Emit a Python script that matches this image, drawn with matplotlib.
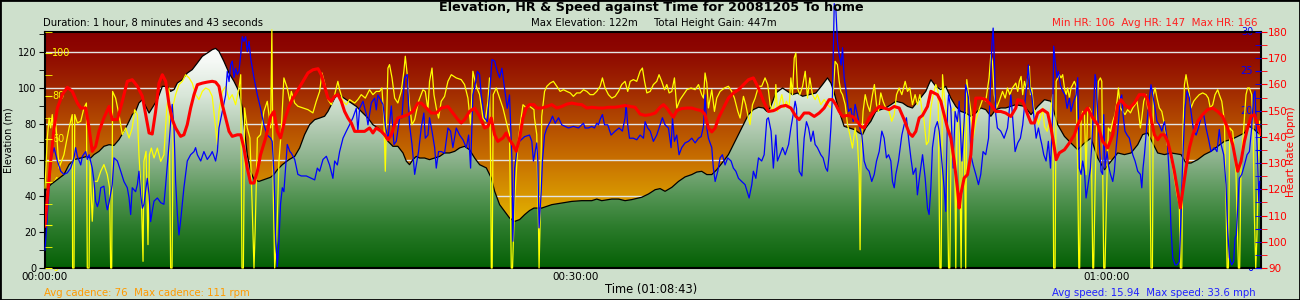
import numpy as np
import matplotlib
matplotlib.use('Agg')  # no display in the sandbox
import matplotlib.pyplot as plt
import matplotlib.transforms as mtransforms
from matplotlib.colors import LinearSegmentedColormap
from matplotlib.patches import Rectangle
from matplotlib.ticker import MultipleLocator, FixedLocator

# ride summary texts
title = 'Elevation, HR & Speed against Time for 20081205 To home'
duration_text = 'Duration: 1 hour, 8 minutes and 43 seconds'
elev_text = 'Max Elevation: 122m     Total Height Gain: 447m'
hr_text = 'Min HR: 106  Avg HR: 147  Max HR: 166'
cad_text = 'Avg cadence: 76  Max cadence: 111 rpm'
spd_text = 'Avg speed: 15.94  Max speed: 33.6 mph'
time_title = 'Time (01:08:43)'
duration_min = 68 + 43 / 60.0

time_ticks = [0, 30, 60]
time_labels = ['00:00:00', '00:30:00', '01:00:00']
cad_ticks = [0, 20, 40, 60, 80, 100]
spd_ticks = [0, 5, 10, 15, 20, 25, 30]

# elevation (m) against minutes
elev_min = [0.00, 0.32, 0.70, 1.07, 1.36, 1.64, 2.02, 2.39, 2.58, 2.77, 3.05, 3.33, 3.62, 3.90, 4.18, 4.46, 4.75, 4.93, 5.12, 5.31,
            5.50, 5.69, 5.88, 6.06, 6.35, 6.63, 6.91, 7.10, 7.29, 7.48, 7.76, 8.04, 8.32, 8.61, 8.89, 9.17, 9.45, 9.64, 9.83, 10.11,
            10.40, 10.68, 10.96, 11.15, 11.24, 11.43, 11.62, 11.81, 12.09, 12.37, 12.75, 12.93, 13.13, 13.41, 13.79,
            14.11, 14.39, 14.67, 14.95, 15.24, 15.52, 15.80, 15.99, 16.18, 16.37, 16.55, 16.74, 17.03, 17.31, 17.59, 17.87, 18.25,
            18.53, 18.81, 19.10, 19.38, 19.66, 19.94, 20.23, 20.42, 20.60, 20.79, 20.98, 21.17, 21.45, 21.73, 22.02, 22.30, 22.58,
            22.86, 23.15, 23.43, 23.71, 23.99, 24.28, 24.56, 24.94, 25.22, 25.41, 25.69, 25.97, 26.25, 26.54, 26.82, 27.10, 27.38, 27.63,
            28.07, 28.64, 29.20, 29.77, 30.33, 30.90, 31.18, 31.46, 32.03, 32.41, 32.78, 33.16, 33.72, 34.10, 34.48, 34.76, 35.04,
            35.42, 35.80, 36.17, 36.55, 36.83, 37.11, 37.40, 37.68, 37.96, 38.34, 38.62, 38.90, 39.19, 39.47, 39.75, 40.03, 40.32,
            40.60, 40.79, 40.98, 41.16,
            41.30, 41.68, 41.96, 42.24, 42.52, 42.81, 43.18, 43.56, 43.94, 44.22, 44.41, 44.60, 44.88, 45.16, 45.44, 45.73, 46.01,
            46.20, 46.38, 46.67, 46.95, 47.23, 47.51, 47.80, 48.08, 48.46, 48.74, 49.02, 49.40, 49.77, 50.06, 50.34, 50.62, 50.90,
            51.19, 51.47, 51.75, 52.03, 52.32, 52.60, 52.88, 53.16, 53.45, 53.73, 54.01, 54.29, 54.58, 54.86,
            55.35, 55.72, 56.10, 56.48, 56.85, 57.23, 57.61, 57.98, 58.36, 58.74, 59.11, 59.49, 59.87, 60.24, 60.62, 61.00, 61.37,
            61.75, 62.03, 62.31, 62.60, 62.88, 63.26, 63.63, 64.20, 64.48, 64.76, 65.14, 65.52, 65.89, 66.27, 66.65, 67.02, 67.40,
            67.78, 68.06, 68.34, 68.72]
elev_m = [42.6, 46.3, 49.1, 51.9, 57.4, 60.2, 61.1, 62.0, 61.1, 63.0, 64.8, 67.6, 68.5, 68.1, 71.3, 75.9, 81.5, 85.2, 87.0, 91.7,
          93.5, 89.8, 86.1, 88.9, 93.5, 100.9, 100.9, 98.1, 99.1, 102.8, 104.6, 108.3, 110.2, 113.9, 117.6, 119.4, 121.3, 122.0, 120.4, 114.8,
          108.3, 103.7, 98.1, 88.9, 79.6, 63.0, 53.7, 49.1, 48.1, 49.1, 50.4, 51.9, 54.6, 57.4, 60.2,
          62.0, 66.7, 74.1, 79.6, 82.4, 83.3, 84.3, 87.0, 90.7, 94.4, 96.3, 95.4, 93.5, 91.7, 89.8, 87.0, 83.3,
          79.6, 77.8, 75.0, 70.4, 67.6, 67.6, 63.9, 59.3, 57.4, 60.2, 62.0, 61.1, 61.1, 60.2, 61.1, 62.0, 63.9,
          63.9, 64.8, 66.7, 67.6, 65.7, 61.1, 57.4, 55.6, 50.0, 42.6, 35.2, 31.5, 27.8, 25.9, 26.9, 29.6, 31.9, 33.3,
          33.3, 35.2, 36.1, 37.0, 37.4, 37.4, 38.3, 37.4, 38.3, 38.3, 37.4, 38.0, 39.3, 41.1, 43.5, 44.1, 42.6,
          44.8, 48.1, 50.6, 51.9, 53.3, 53.7, 51.9, 51.9, 54.6, 59.3, 63.0, 68.5, 74.1, 79.6, 85.2, 88.0, 89.3,
          88.9, 87.0, 88.9, 93.5,
          97.2, 100.0, 98.1, 96.3, 97.2, 95.4, 96.3, 97.2, 101.9, 105.6, 102.8, 97.2, 87.0, 78.7, 77.8, 76.9, 75.0,
          74.1, 77.8, 81.5, 87.0, 88.0, 88.9, 90.7, 92.6, 91.7, 89.8, 88.9, 93.5, 98.1, 104.6, 100.9, 99.1, 100.9,
          94.4, 89.8, 87.0, 86.1, 84.3, 86.1, 88.9, 88.0, 84.3, 88.0, 88.9, 88.9, 89.8, 90.7,
          89.8, 85.2, 89.8, 93.5, 92.6, 79.6, 73.1, 69.4, 65.7, 69.4, 72.2, 61.1, 54.6, 59.3, 63.9, 63.0, 63.9,
          68.5, 74.1, 75.0, 69.4, 63.9, 63.0, 63.9, 63.0, 58.3, 58.3, 60.2, 63.0, 64.8, 67.6, 70.4, 71.3, 73.1,
          75.0, 78.7, 76.9, 73.5]

# heart rate (bpm)
hr_min = [0.00, 0.13, 0.32, 0.51, 0.70, 0.98, 1.26, 1.54, 1.83, 2.02, 2.30, 2.49, 2.67, 2.86, 3.05, 3.33, 3.62, 3.80, 4.09, 4.37,
          4.65, 4.93, 5.22, 5.50, 5.69, 5.88, 6.06, 6.25, 6.44, 6.63, 6.82, 7.01, 7.19, 7.38, 7.66, 7.85, 8.04, 8.23, 8.42, 8.61,
          8.89, 9.17, 9.45, 9.64, 9.83, 10.02, 10.21, 10.40, 10.58, 10.87, 11.06, 11.24, 11.43, 11.62, 11.81, 12.00, 12.18, 12.47,
          12.75, 12.94, 13.13, 13.31, 13.60, 13.79,
          14.01, 14.30, 14.58, 14.86, 15.14, 15.43, 15.61, 15.80, 15.99, 16.18, 16.37, 16.55, 16.74, 16.93, 17.12, 17.31, 17.50,
          17.78, 18.06, 18.34, 18.53, 18.72, 19.00, 19.19, 19.38, 19.57, 19.76, 19.94, 20.23, 20.51, 20.79, 21.07, 21.26, 21.55,
          21.83, 22.11, 22.39, 22.77, 23.05, 23.33, 23.52, 23.71, 23.99, 24.28, 24.56, 24.84, 25.03, 25.22, 25.41, 25.59, 25.88,
          26.06, 26.25, 26.44, 26.63, 26.82, 27.01, 27.20, 27.38, 27.63,
          27.79, 28.07, 28.36, 28.64, 28.92, 29.20, 29.49, 29.77, 30.05, 30.33, 30.62, 30.90, 31.28, 31.56, 31.84, 32.22, 32.50,
          32.78, 33.07, 33.35, 33.63, 33.91, 34.20, 34.48, 34.76, 34.95, 35.14, 35.33, 35.51, 35.70, 35.98, 36.27, 36.55, 36.83,
          37.11, 37.30, 37.49, 37.68, 37.87, 38.06, 38.34, 38.62, 38.90, 39.19, 39.47, 39.75, 40.03, 40.32, 40.60, 40.88, 41.16,
          41.30, 41.58, 41.86, 42.15, 42.43, 42.62, 42.90, 43.18, 43.47, 43.75, 44.03, 44.31, 44.50, 44.69, 44.88, 45.07, 45.35,
          45.63, 45.91, 46.10, 46.29, 46.57, 46.86, 47.14, 47.42, 47.70, 47.99, 48.27, 48.55, 48.83, 49.02, 49.21, 49.40, 49.59,
          49.87, 50.06, 50.25, 50.43, 50.62, 50.81, 51.00, 51.19, 51.38, 51.56, 51.66, 51.75, 51.94, 52.13, 52.32, 52.41, 52.60,
          52.88, 53.16, 53.45, 53.73, 54.01, 54.29, 54.58, 54.86,
          54.97, 55.25, 55.53, 55.72, 55.91, 56.10, 56.38, 56.66, 56.85, 57.04, 57.14, 57.32, 57.61, 57.89, 58.17, 58.36, 58.64,
          58.92, 59.21, 59.49, 59.77, 60.05, 60.34, 60.62, 60.81, 61.00, 61.28, 61.56, 61.84, 62.13, 62.31, 62.50, 62.69, 62.88,
          63.07, 63.26, 63.44, 63.63, 63.82, 64.01, 64.16, 64.29, 64.48, 64.67, 64.86, 65.14, 65.42, 65.70, 65.99, 66.27, 66.55,
          66.83, 67.12, 67.40, 67.59, 67.78, 67.96, 68.15, 68.34, 68.53, 68.72]
hr_bpm = [106.0, 116.7, 130.7, 143.4, 151.0, 156.1, 158.9, 157.4, 152.9, 151.0, 151.0, 143.4, 134.5, 136.4, 142.1, 147.2, 151.6, 146.6, 146.6, 153.6,
          161.2, 161.8, 159.3, 155.5, 148.5, 141.5, 141.1, 149.7, 160.5, 163.7, 161.2, 152.3, 146.6, 143.4, 140.2, 140.8, 144.7, 151.0, 156.1, 159.9,
          160.5, 160.9, 161.2, 160.9, 159.3, 152.3, 147.2, 142.1, 140.2, 140.8, 140.8, 135.8, 128.1, 122.4, 122.4, 126.9, 133.2, 139.6,
          147.8, 149.7, 142.1, 139.6, 147.8, 151.6,
          154.8, 158.0, 161.2, 164.4, 165.6, 166.0, 163.7, 159.3, 154.8, 153.6, 155.5, 156.1, 153.6, 149.7, 147.2, 145.3, 142.1,
          142.1, 142.1, 143.4, 141.5, 143.4, 142.1, 140.8, 138.9, 140.8, 144.7, 147.2, 147.8, 148.5, 149.7, 152.9, 152.9, 151.0,
          149.1, 149.1, 151.0, 151.6, 149.1, 146.6, 145.3, 146.6, 149.7, 151.0, 147.8, 143.4, 144.0, 147.2, 140.8, 138.3, 139.6,
          141.5, 138.9, 137.0, 134.5, 139.6, 147.2, 151.0, 152.3, 152.3,
          151.0, 151.0, 151.6, 152.3, 151.0, 151.6, 152.5, 152.9, 152.5, 152.3, 151.0, 151.3, 151.0, 151.0, 151.3, 151.3, 151.6,
          152.0, 151.6, 151.3, 148.7, 148.2, 148.5, 149.1, 151.3, 152.3, 151.0, 149.1, 147.5, 150.0, 150.8, 151.0, 151.0, 150.4,
          150.0, 148.5, 143.4, 141.9, 143.4, 147.2, 151.0, 154.8, 156.7, 158.0, 159.9, 161.8, 162.5, 158.6, 153.6, 149.7, 150.0,
          150.4, 151.6, 152.0, 151.0, 147.8, 146.6, 149.1, 149.1, 147.8, 149.1, 151.0, 154.2, 154.2, 152.3, 149.7, 147.8, 148.2,
          147.8, 145.9, 144.0, 143.4, 147.2, 149.7, 151.6, 151.0, 150.4, 151.6, 151.0, 146.6, 141.5, 140.2, 142.1, 147.2, 148.2,
          151.6, 157.4, 156.7, 156.1, 153.6, 148.5, 143.4, 139.6, 130.7, 120.5, 112.9, 118.0, 124.3, 125.6, 133.2, 142.1, 154.8,
          154.8, 154.2, 152.3, 149.7, 149.7, 149.1, 147.8, 151.0,
          154.2, 153.6, 148.5, 145.3, 145.3, 149.1, 150.4, 149.1, 143.4, 135.8, 131.3, 133.9, 135.1, 137.7, 140.8, 144.7, 148.5,
          151.0, 147.2, 144.7, 138.3, 135.8, 140.8, 152.3, 154.2, 152.3, 151.0, 152.9, 156.1, 156.1, 154.2, 147.2, 140.8, 138.9,
          140.8, 140.8, 138.3, 133.2, 126.9, 119.2, 112.9, 119.2, 128.1, 135.8, 140.8, 145.9, 148.5, 150.4, 151.0, 149.7, 147.8,
          143.4, 137.0, 126.9, 130.7, 138.3, 143.4, 147.8, 148.5, 144.7, 141.0]

# speed (mph)
spd_min = [0.00, 0.09, 0.23, 0.36, 0.51, 0.70, 0.89, 1.07, 1.26, 1.45, 1.64, 1.73, 1.83, 2.02, 2.11, 2.30, 2.39, 2.49, 2.67, 2.77,
           2.86, 2.96, 3.05, 3.15, 3.33, 3.43, 3.52, 3.62, 3.80, 3.90, 4.09, 4.28, 4.46, 4.65, 4.75, 4.84, 4.93, 5.12, 5.22, 5.31,
           5.41, 5.50, 5.59, 5.78, 5.88, 5.97, 6.06, 6.16, 6.35, 6.54, 6.72, 6.82, 7.01, 7.10, 7.19, 7.29, 7.38, 7.48, 7.57, 7.66,
           7.85, 8.04, 8.23, 8.42, 8.51, 8.61, 8.80, 8.98, 9.17, 9.36, 9.45, 9.55, 9.64, 9.74, 9.83, 10.02, 10.21, 10.30, 10.40, 10.49,
           10.58, 10.68, 10.77, 10.87, 10.96, 11.06, 11.15, 11.24, 11.34, 11.43, 11.53, 11.62, 11.81, 12.00, 12.18, 12.37, 12.56, 12.75,
           12.84, 12.94, 13.03, 13.13, 13.22, 13.31, 13.41, 13.50, 13.69, 13.84,
           13.92, 14.11, 14.29, 14.48, 14.77, 15.05, 15.24, 15.39, 15.52, 15.71, 15.90, 16.08, 16.27, 16.37, 16.52, 16.65, 16.84,
           17.03, 17.21, 17.40, 17.59, 17.68, 17.78, 17.97, 18.16, 18.25, 18.44, 18.63, 18.72, 18.81, 19.00, 19.10, 19.23, 19.38,
           19.57, 19.72, 19.85, 20.04, 20.17, 20.32, 20.47, 20.60, 20.74, 20.89, 20.98, 21.11, 21.26, 21.41, 21.49, 21.64, 21.73,
           21.87, 22.02, 22.11, 22.24, 22.39, 22.58, 22.77, 22.92, 23.05, 23.24, 23.43, 23.62, 23.81, 23.94, 24.05, 24.18, 24.28,
           24.43, 24.56, 24.65, 24.84, 24.99, 25.12, 25.26, 25.41, 25.56, 25.69, 25.82, 25.97, 26.12, 26.25, 26.39, 26.44, 26.54,
           26.69, 26.82, 27.10, 27.38,
           27.51, 27.60, 27.70, 27.79, 27.85, 27.92, 28.04, 28.11, 28.23, 28.36, 28.55, 28.68, 28.83, 29.02, 29.20, 29.39, 29.58,
           29.86, 30.15, 30.33, 30.43, 30.52, 30.71, 30.90, 31.05, 31.18, 31.28, 31.37, 31.50, 31.62, 31.80, 31.99, 32.22, 32.44,
           32.63, 32.78, 32.84, 32.93, 33.03, 33.25, 33.44, 33.63, 33.82, 33.91, 34.06, 34.20, 34.38, 34.57, 34.76, 34.89, 35.04,
           35.23, 35.38, 35.46, 35.57, 35.70, 35.83, 35.98, 36.17, 36.36, 36.55, 36.74, 36.93, 37.08, 37.21, 37.30, 37.40, 37.49,
           37.68, 37.77, 37.87, 38.02, 38.15, 38.28, 38.43, 38.58, 38.77, 38.90, 39.04, 39.19, 39.37, 39.56, 39.79, 39.94, 40.03,
           40.17, 40.32, 40.50, 40.64, 40.79, 40.88, 41.03, 41.16,
           41.30, 41.39, 41.53, 41.68, 41.83, 42.02, 42.15, 42.28, 42.39, 42.47, 42.52, 42.62, 42.77, 42.90, 43.03, 43.15, 43.28,
           43.41, 43.52, 43.65, 43.84, 43.97, 44.12, 44.22, 44.31, 44.41, 44.50, 44.60, 44.69, 44.78, 44.88, 44.99, 45.07, 45.16,
           45.25, 45.41, 45.54, 45.67, 45.78, 45.91, 46.05, 46.16, 46.29, 46.42, 46.57, 46.72, 46.86, 46.99, 47.14, 47.29, 47.42,
           47.55, 47.67, 47.80, 47.89, 47.99, 48.08, 48.23, 48.42, 48.55, 48.68, 48.80, 48.93, 49.06, 49.21, 49.30, 49.44, 49.59,
           49.74, 49.87, 49.96, 50.06, 50.15, 50.30, 50.43, 50.53, 50.68, 50.81, 50.90, 51.00, 51.06, 51.19, 51.32, 51.43, 51.56,
           51.66, 51.81, 51.94, 52.03, 52.19, 52.32, 52.45, 52.60, 52.75, 52.88, 53.01, 53.16, 53.32, 53.43, 53.50, 53.58, 53.65,
           53.73, 53.82, 54.01, 54.20, 54.39, 54.58, 54.67, 54.82,
           54.97, 55.12, 55.25, 55.38, 55.50, 55.57, 55.65, 55.76, 55.87, 56.01, 56.14, 56.25, 56.33, 56.44, 56.57, 56.70, 56.82,
           56.95, 57.00, 57.08, 57.19, 57.27, 57.38, 57.51, 57.64, 57.76, 57.89, 57.98, 58.13, 58.27, 58.36, 58.45, 58.55, 58.64,
           58.74, 58.83, 58.92, 59.08, 59.21, 59.34, 59.41, 59.49, 59.58, 59.68, 59.77, 59.83, 59.90, 60.02, 60.09, 60.21, 60.34,
           60.43, 60.53, 60.62, 60.77, 60.85, 60.92, 61.03, 61.15, 61.28, 61.47, 61.60, 61.75, 61.90, 61.98, 62.05, 62.13, 62.28,
           62.41, 62.50, 62.60, 62.73, 62.84, 62.97, 63.11, 63.26, 63.41, 63.54, 63.63, 63.73, 63.86, 63.97, 64.10, 64.20, 64.29,
           64.42, 64.54, 64.67, 64.76, 64.91, 65.05, 65.18, 65.33, 65.48, 65.61, 65.74, 65.89, 66.08, 66.23, 66.36, 66.46, 66.61,
           66.74, 66.83, 66.93, 67.06, 67.17, 67.25, 67.32, 67.40, 67.49, 67.63, 67.78, 67.93, 68.06, 68.19, 68.30, 68.38, 68.44,
           68.53, 68.59, 68.64]
spd_mph = [2.3, 5.1, 10.2, 14.0, 15.3, 13.6, 12.3, 11.9, 12.1, 12.7, 14.0, 15.3, 14.2, 13.1, 14.2, 14.8, 13.8, 14.4, 12.7, 11.0,
           8.5, 7.8, 8.5, 10.2, 10.4, 8.5, 7.4, 8.3, 10.6, 14.0, 13.6, 12.3, 11.0, 10.2, 8.9, 6.8, 10.2, 9.7, 10.6, 12.3,
           9.3, 7.6, 8.1, 11.4, 9.3, 5.9, 7.2, 8.5, 8.9, 8.3, 8.1, 10.6, 15.7, 18.6, 20.8, 17.8, 11.0, 6.8, 4.2, 5.9,
           10.2, 13.6, 14.4, 14.8, 15.3, 14.4, 13.6, 14.8, 13.8, 14.4, 14.8, 14.2, 13.6, 14.8, 17.8, 19.9, 22.0, 25.0, 23.7, 25.8,
           26.3, 24.2, 25.4, 24.6, 25.0, 27.1, 29.4, 28.8, 29.4, 27.5, 28.8, 26.7, 24.2, 22.0, 20.3, 18.2, 16.9, 16.5,
           16.1, 11.9, 4.2, 0.2, 3.4, 8.1, 10.2, 9.7, 15.7, 14.8,
           14.6, 13.8, 11.9, 11.7, 11.7, 11.4, 11.2, 12.7, 12.3, 13.8, 14.2, 13.1, 11.4, 13.6, 13.1, 14.8, 16.5,
           17.4, 18.2, 19.1, 20.3, 17.4, 20.3, 21.2, 19.5, 18.2, 21.0, 21.6, 20.1, 22.0, 21.2, 20.8, 18.2, 16.3,
           20.6, 15.7, 16.1, 19.1, 19.1, 24.2, 24.6, 18.2, 15.7, 11.9, 13.1, 14.8, 17.8, 19.7, 16.5, 16.9, 19.1,
           17.4, 15.3, 12.7, 14.8, 14.8, 14.6, 17.8, 17.4, 15.3, 17.8, 16.9, 16.3, 15.3, 16.9, 12.7, 22.0, 22.9,
           25.0, 24.6, 22.0, 19.1, 18.6, 22.0, 26.5, 26.3, 25.0, 24.2, 25.4, 22.9, 20.3, 22.0, 13.6, 3.4, 12.7,
           15.3, 16.1, 16.7, 16.9,
           16.1, 13.6, 14.8, 15.9, 13.6, 5.1, 9.7, 13.6, 16.9, 17.8, 18.6, 19.3, 18.4, 19.1, 18.2, 18.0, 17.8,
           18.0, 17.8, 18.2, 18.4, 17.8, 17.8, 18.0, 17.8, 18.4, 18.2, 18.9, 19.5, 18.2, 18.2, 16.9, 17.4, 17.8,
           17.4, 19.1, 20.8, 18.2, 16.5, 16.5, 16.3, 16.9, 16.5, 18.6, 17.8, 17.4, 16.1, 16.9, 18.2, 19.1, 18.2,
           17.8, 15.3, 19.1, 16.1, 16.9, 14.4, 15.3, 15.9, 16.1, 16.5, 15.9, 16.5, 16.7, 18.0, 22.0, 17.8, 16.5,
           15.3, 12.7, 11.0, 12.3, 14.0, 14.4, 13.1, 14.0, 13.6, 12.7, 12.3, 11.4, 11.0, 10.6, 8.9, 10.6, 12.3,
           11.4, 14.0, 13.6, 14.4, 18.9, 19.1, 17.4, 12.7,
           16.9, 13.6, 14.4, 15.3, 14.4, 15.7, 17.8, 19.5, 21.2, 20.3, 16.5, 12.3, 11.7, 16.5, 18.6, 17.8, 16.1,
           17.4, 15.7, 15.3, 14.4, 14.0, 12.7, 12.3, 14.4, 17.8, 22.0, 33.6, 33.0, 28.8, 27.1, 25.8, 28.0, 24.2,
           22.9, 19.9, 20.3, 18.6, 20.8, 19.5, 17.8, 16.9, 13.6, 12.7, 12.3, 11.0, 11.9, 13.6, 14.8, 17.4, 16.5,
           14.0, 14.4, 13.6, 11.0, 10.2, 11.9, 13.6, 16.9, 18.2, 19.1, 16.5, 14.0, 11.9, 12.7, 9.3, 11.9, 14.4,
           11.4, 7.6, 6.8, 10.2, 15.3, 17.8, 18.6, 17.4, 13.6, 10.2, 7.2, 19.9, 22.0, 20.3, 12.7, 19.9, 18.6,
           21.2, 13.6, 18.6, 23.3, 21.6, 14.4, 13.1, 11.9, 10.6, 11.9, 14.8, 14.4, 16.5, 23.7, 28.0, 30.5, 26.3,
           19.5, 17.8, 17.4, 16.5, 17.8, 22.0, 19.5, 14.8,
           15.9, 16.5, 18.2, 21.2, 23.7, 25.8, 22.9, 22.0, 19.5, 16.5, 17.8, 16.5, 15.7, 14.4, 13.6, 16.1, 12.7,
           19.9, 28.2, 26.3, 24.2, 25.0, 23.3, 22.5, 22.0, 20.3, 21.6, 19.9, 21.2, 22.0, 24.2, 12.7, 11.9, 13.6,
           12.3, 8.9, 10.2, 12.7, 18.2, 24.6, 23.7, 19.5, 15.7, 12.3, 11.9, 19.5, 12.7, 14.8, 13.1, 11.9, 11.0,
           12.3, 15.3, 17.4, 21.6, 22.0, 19.5, 17.4, 16.9, 16.5, 14.4, 13.6, 12.3, 11.9, 10.2, 12.7, 14.4, 18.6,
           21.6, 23.3, 22.0, 20.3, 18.6, 18.2, 17.4, 18.6, 16.5, 11.4, 5.1, 1.3, 0.4, 0.4, 0.8, 6.8, 13.6,
           20.3, 22.5, 21.6, 19.9, 17.4, 16.9, 17.8, 19.1, 19.5, 17.8, 16.5, 14.8, 15.3, 14.8, 17.6, 15.7, 14.4,
           10.6, 5.1, 1.3, 0.4, 0.8, 3.8, 4.2, 7.6, 11.4, 11.9, 13.1, 14.4, 14.8, 17.8, 22.0, 22.5, 18.6,
           13.6, 8.5, 11.0]

# cadence (rpm)
cad_min = [0.00, 0.13, 0.23, 0.32, 0.41, 0.51, 0.60, 0.70, 0.79, 1.07, 1.36, 1.54, 1.56, 1.64, 1.68, 1.83, 2.02, 2.20, 2.34, 2.39,
           2.49, 2.54, 2.67, 2.77, 2.96, 3.15, 3.33, 3.52, 3.65, 3.71, 3.77, 3.82, 3.99, 4.18, 4.37, 4.56, 4.75, 4.93, 5.07, 5.22,
           5.31, 5.44, 5.54, 5.59, 5.71, 5.82, 5.90, 6.01, 6.16, 6.35, 6.54, 6.72, 6.87, 7.01, 7.10, 7.18, 7.25, 7.38, 7.57, 7.76,
           7.95, 8.14, 8.32, 8.51, 8.70, 8.89, 9.08, 9.27, 9.45, 9.64, 9.74, 9.83, 10.02, 10.21, 10.40, 10.58, 10.77, 10.96, 11.06, 11.13,
           11.21, 11.28, 11.43, 11.58, 11.70, 11.81, 11.88, 12.00, 12.18, 12.37, 12.56, 12.75, 12.82, 12.90, 12.98, 13.09, 13.22, 13.35,
           13.50, 13.69, 13.84,
           13.92, 14.11, 14.29, 14.58, 14.86, 15.14, 15.33, 15.52, 15.65, 15.80, 15.99, 16.18, 16.37, 16.55, 16.65, 16.84, 17.03,
           17.21, 17.50, 17.68, 17.87, 18.10, 18.34, 18.53, 18.72, 18.91, 19.04, 19.15, 19.23, 19.30, 19.38, 19.47, 19.61, 19.76,
           19.94, 20.13, 20.28, 20.36, 20.47, 20.60, 20.74, 20.89, 21.11, 21.36, 21.49, 21.64, 21.73, 21.87, 21.98, 22.11, 22.24,
           22.39, 22.58, 22.77, 22.96, 23.24, 23.52, 23.71, 23.90, 24.05, 24.18, 24.37, 24.56, 24.75, 24.88, 25.03, 25.12, 25.18,
           25.22, 25.27, 25.33, 25.50, 25.69, 25.88, 26.06, 26.25, 26.35, 26.42, 26.54, 26.72, 26.88, 27.01, 27.20, 27.38, 27.63,
           27.66, 27.79, 27.89, 27.92, 27.98, 28.07, 28.23, 28.36, 28.55, 28.73, 28.92, 29.11, 29.30, 29.49, 29.68, 29.86, 30.05,
           30.24, 30.43, 30.62, 30.81, 30.99, 31.18, 31.37, 31.50, 31.65, 31.84, 32.03, 32.22, 32.41, 32.59, 32.78, 32.93, 33.07,
           33.25, 33.44, 33.63, 33.76, 33.88, 34.01, 34.20, 34.38, 34.57, 34.70, 34.85, 35.01, 35.14, 35.27, 35.42, 35.57, 35.70,
           35.89, 36.08, 36.27, 36.51, 36.74, 36.93, 37.11, 37.21, 37.30, 37.40, 37.49, 37.68, 37.83, 37.96, 38.15, 38.40, 38.62,
           38.81, 38.96, 39.15, 39.28, 39.47, 39.60, 39.75, 39.84, 39.98, 40.13, 40.32, 40.50, 40.69, 40.84, 40.98, 41.11, 41.26,
           41.30, 41.39, 41.49, 41.64, 41.77, 41.90, 42.05, 42.15, 42.24, 42.34, 42.43, 42.52, 42.66, 42.81, 42.96, 43.09, 43.22,
           43.37, 43.52, 43.65, 43.84, 44.03, 44.22, 44.41, 44.54, 44.65, 44.78, 44.88, 44.97, 45.07, 45.22, 45.35, 45.48, 45.63,
           45.78, 45.91, 46.01, 46.06, 46.12, 46.23, 46.35, 46.48, 46.61, 46.76, 46.87, 46.99, 47.10, 47.23, 47.36, 47.51, 47.70,
           47.85, 47.99, 48.12, 48.27, 48.42, 48.61, 48.74, 48.87, 49.02, 49.17, 49.30, 49.44, 49.59, 49.68, 49.81, 49.93, 50.06,
           50.19, 50.34, 50.47, 50.57, 50.64, 50.72, 50.81, 50.94, 51.06, 51.13, 51.22, 51.38, 51.47, 51.53, 51.66, 51.77, 51.85,
           51.94, 52.03, 52.09, 52.19, 52.32, 52.45, 52.60, 52.75, 52.88, 53.01, 53.16, 53.35, 53.45, 53.54, 53.64, 53.77, 53.92,
           54.11, 54.26, 54.39, 54.52, 54.67, 54.86,
           54.97, 55.06, 55.16, 55.25, 55.35, 55.44, 55.53, 55.63, 55.69, 55.76, 55.87, 56.01, 56.14, 56.25, 56.38, 56.48, 56.63,
           56.76, 56.85, 56.95, 57.00, 57.08, 57.14, 57.23, 57.32, 57.42, 57.51, 57.61, 57.70, 57.79, 57.89, 57.98, 58.08, 58.17,
           58.27, 58.36, 58.42, 58.47, 58.55, 58.64, 58.74, 58.83, 58.92, 59.02, 59.11, 59.21, 59.26, 59.34, 59.45, 59.53, 59.64,
           59.72, 59.83, 59.90, 60.02, 60.09, 60.21, 60.34, 60.47, 60.58, 60.66, 60.77, 60.90, 61.03, 61.18, 61.34, 61.47, 61.60,
           61.71, 61.79, 61.90, 61.98, 62.09, 62.22, 62.31, 62.41, 62.50, 62.58, 62.63, 62.73, 62.84, 62.97, 63.11, 63.26, 63.41,
           63.54, 63.67, 63.82, 63.97, 64.10, 64.16, 64.24, 64.31, 64.39, 64.48, 64.57, 64.67, 64.76, 64.91, 65.05, 65.23, 65.42,
           65.61, 65.74, 65.85, 65.99, 66.12, 66.27, 66.36, 66.50, 66.65, 66.74, 66.80, 66.87, 66.95, 67.12, 67.30, 67.44, 67.51,
           67.59, 67.74, 67.87, 67.96, 68.06, 68.19, 68.27, 68.34, 68.42, 68.49, 68.57, 68.64]
cad_rpm = [37.3, 60.6, 69.9, 65.3, 71.5, 60.6, 68.4, 57.5, 46.6, 52.8, 65.3, 71.5, 0, 0, 71.5, 67.6, 68.4, 74.6, 76.9, 0,
           0, 49.7, 21.8, 40.4, 40.4, 45.1, 48.2, 43.5, 37.3, 0, 0, 82.3, 79.2, 71.5, 62.2, 65.3, 60.6, 65.3, 73.8, 71.5,
           52.8, 34.2, 3.1, 49.7, 54.4, 10.9, 52.8, 55.9, 51.3, 55.9, 49.7, 52.8, 73.0, 83.9, 0, 0, 76.1, 80.8, 85.5, 87.0,
           90.1, 88.6, 86.2, 80.8, 78.5, 82.3, 83.9, 83.1, 80.0, 65.3, 57.5, 73.0, 82.3, 84.7, 78.5, 80.8, 76.1, 83.9, 90.1, 0,
           0, 74.6, 65.3, 60.6, 31.1, 0, 18.6, 60.6, 62.2, 73.0, 77.7, 65.3, 111.0, 34.2, 0, 12.4, 49.7, 63.7,
           88.6, 83.9, 77.7,
           82.3, 76.9, 75.4, 74.6, 73.8, 72.3, 77.7, 82.3, 90.9, 86.2, 78.5, 76.1, 80.8, 87.0, 83.1, 77.7, 76.1,
           78.5, 76.9, 78.5, 80.8, 79.2, 83.1, 80.8, 82.3, 82.3, 83.9, 69.9, 45.1, 68.4, 93.2, 94.8, 88.6, 79.2,
           76.9, 82.3, 91.7, 98.7, 90.1, 76.1, 66.8, 69.1, 77.7, 83.1, 82.3, 73.8, 87.0, 93.2, 80.8, 74.6, 69.9,
           77.7, 80.0, 87.0, 90.1, 88.6, 87.8, 85.5, 79.2, 66.8, 91.7, 84.7, 80.8, 69.9, 68.4, 77.7, 88.6, 49.7,
           0, 0, 80.8, 83.9, 79.2, 74.6, 68.4, 62.2, 0, 0, 31.1, 57.5, 68.4, 76.1, 74.6, 75.4, 73.8,
           69.9, 62.2, 18.6, 0, 21.8, 70.7, 82.3, 84.7, 86.2, 87.0, 84.7, 82.3, 83.1, 82.3, 81.6, 80.0, 81.6,
           81.6, 83.1, 82.3, 80.8, 80.8, 82.3, 84.7, 88.6, 83.9, 80.8, 79.2, 80.0, 82.3, 85.5, 87.0, 82.3, 87.0,
           87.8, 87.0, 91.7, 93.2, 87.0, 81.6, 82.3, 85.5, 87.0, 90.1, 87.0, 83.1, 85.5, 81.6, 82.3, 88.6, 74.6,
           78.5, 80.8, 83.1, 83.9, 83.1, 85.5, 80.8, 79.2, 90.9, 86.2, 74.6, 83.1, 73.0, 79.2, 82.3, 83.9, 84.7,
           82.3, 79.2, 73.0, 69.9, 80.0, 76.1, 69.9, 66.8, 76.1, 79.2, 84.7, 84.7, 88.6, 85.5, 76.1, 73.0, 77.7,
           85.5, 73.0, 76.1, 80.8, 74.6, 77.7, 74.6, 88.6, 80.8, 97.9, 100.2, 83.9, 80.8, 84.7, 91.7, 79.2, 88.6,
           80.8, 78.5, 80.8, 76.1, 78.5, 76.1, 74.6, 80.8, 96.3, 94.8, 87.0, 82.3, 80.8, 76.1, 66.8, 62.2, 55.9,
           65.3, 59.0, 43.5, 8.5, 55.9, 73.0, 80.8, 76.1, 73.0, 80.8, 85.5, 76.1, 73.0, 81.6, 77.7, 74.6, 73.0,
           68.4, 71.5, 80.8, 83.9, 80.8, 87.0, 82.3, 83.9, 76.1, 80.8, 76.1, 80.8, 71.5, 68.4, 57.5, 59.0, 74.6,
           80.8, 85.5, 82.3, 0, 0, 90.1, 80.8, 73.0, 0, 0, 73.0, 74.6, 0, 65.3, 73.0, 0, 65.3,
           69.9, 0, 87.8, 80.8, 73.0, 60.6, 68.4, 73.0, 76.1, 79.2, 77.7, 88.6, 99.4, 96.3, 80.8, 74.6, 77.7,
           82.3, 79.2, 83.9, 80.8, 83.9, 86.2,
           82.3, 87.0, 89.3, 80.8, 87.0, 83.9, 88.6, 94.0, 80.8, 83.9, 74.6, 71.5, 66.8, 69.9, 74.6, 66.0, 63.7,
           68.4, 74.6, 80.8, 0, 0, 87.0, 88.6, 90.1, 88.6, 90.1, 83.9, 80.8, 83.9, 79.2, 83.9, 85.5, 87.0,
           84.7, 45.1, 0, 0, 69.9, 73.0, 71.5, 43.5, 73.0, 74.6, 73.0, 0, 0, 37.3, 74.6, 87.0, 88.6,
           87.0, 0, 0, 45.1, 65.3, 63.7, 68.4, 71.5, 77.7, 83.9, 74.6, 73.0, 71.5, 73.8, 72.3, 74.6, 76.1,
           77.7, 73.0, 65.3, 69.9, 77.7, 80.8, 74.6, 73.0, 0, 0, 80.8, 83.9, 79.2, 74.6, 73.0, 66.8, 57.5,
           54.4, 49.7, 42.0, 34.2, 29.5, 0, 0, 65.3, 85.5, 90.1, 85.5, 80.8, 74.6, 77.7, 79.2, 80.8, 81.6,
           80.8, 79.2, 74.6, 76.1, 80.8, 83.1, 80.8, 77.7, 68.4, 31.1, 0, 0, 65.3, 63.7, 45.1, 0, 0,
           49.7, 65.3, 80.8, 83.9, 83.9, 80.8, 65.3, 24.9, 0, 15.5, 49.7, 68.4]

ELEV_TOP = 131.1
HR_RANGE = (90, 180)
SPD_RANGE = (0, 30)
CAD_RANGE = (0, 110)

bg_cmap = LinearSegmentedColormap.from_list('bg', [
    (0.0, '#f0cc00'), (0.2, '#e2b200'), (0.305, '#d89800'), (0.458, '#c87000'),
    (0.61, '#b44c00'), (0.763, '#a02800'), (0.915, '#8e0800'), (1.0, '#880000')])
hill_cmap = LinearSegmentedColormap.from_list('hill', [
    (0.0, '#056005'), (0.17, '#2b7b2b'), (0.31, '#559555'), (0.45, '#88b088'),
    (0.6, '#b4ccb4'), (0.73, '#d8e6d8'), (0.88, '#f6f9f6'), (1.0, '#ffffff')])

fig = plt.figure(figsize=(13, 3), dpi=100)
fig.patch.set_facecolor('#cee0cc')
ax = fig.add_axes([45 / 1300, 32 / 300, 1216 / 1300, 236 / 300])

ax_hr = ax.twinx()
ax_spd = ax.twinx()
ax_cad = ax.twinx()
ax.set_xlim(0, duration_min)
ax.set_ylim(0, ELEV_TOP)
ax_hr.set_ylim(*HR_RANGE)
ax_spd.set_ylim(*SPD_RANGE)
ax_cad.set_ylim(*CAD_RANGE)

# red to orange sky behind everything
grad = np.linspace(0, 1, 256).reshape(-1, 1)
ext = [0, duration_min, 0, ELEV_TOP]
ax.imshow(grad, extent=ext, origin='lower', aspect='auto', cmap=bg_cmap, zorder=0)

for g in [20, 40, 60, 80, 100, 120]:
    ax.axhline(g, color='#e4e4e4', lw=1, zorder=1)

# labels of cadence / speed scale sit under the hill
cad_tr = mtransforms.blended_transform_factory(ax.transAxes, ax_cad.transData)
spd_tr = mtransforms.blended_transform_factory(ax.transAxes, ax_spd.transData)
for v in cad_ticks:
    ax.text(0.006, v, str(v), transform=cad_tr, color='#ffff00', fontsize=7,
            ha='left', va='center', zorder=1.5)
for v in spd_ticks:
    ax.text(0.9935, v, str(v), transform=spd_tr, color='#0000ff', fontsize=7,
            ha='right', va='center', zorder=1.5)

# elevation hill with green gradient
hill = ax.fill_between(elev_min, elev_m, 0, facecolor='none', edgecolor='none', zorder=2)
green = ax.imshow(grad, extent=ext, origin='lower', aspect='auto', cmap=hill_cmap, zorder=2)
green.set_clip_path(hill.get_paths()[0], ax.transData)
ax.plot(elev_min, elev_m, color='black', lw=0.9, zorder=3)

# cadence, speed and heart rate
ax.plot(cad_min, cad_rpm, color='#ffff00', lw=0.9, zorder=4, transform=ax_cad.transData, clip_on=False)
ax.plot(spd_min, spd_mph, color='#0000ff', lw=0.9, zorder=5, transform=ax_spd.transData, clip_on=False)
ax.plot(hr_min, hr_bpm, color='#ff0000', lw=2.2, zorder=6, transform=ax_hr.transData)

ax.set_xlim(0, duration_min)
ax.set_ylim(0, ELEV_TOP)

# axes and ticks
for s in ax.spines.values():
    s.set_linewidth(1.5)
for a in (ax_hr, ax_spd, ax_cad):
    for s in a.spines.values():
        s.set_visible(False)

ax.yaxis.set_major_locator(MultipleLocator(20))
ax.yaxis.set_minor_locator(MultipleLocator(10))
ax.tick_params(axis='y', which='both', direction='out', length=4, labelsize=7, pad=2)
ax.xaxis.set_major_locator(FixedLocator(time_ticks))
ax.set_xticklabels(time_labels)
ax.xaxis.set_minor_locator(MultipleLocator(5))
ax.tick_params(axis='x', which='both', direction='in', length=3, labelsize=7.5, pad=3)

ax_hr.yaxis.set_major_locator(MultipleLocator(10))
ax_hr.yaxis.set_minor_locator(MultipleLocator(5))
ax_hr.tick_params(axis='y', which='both', direction='out', colors='#ff0000', length=4, labelsize=7.5, pad=1)

ax_spd.yaxis.set_major_locator(MultipleLocator(5))
ax_spd.yaxis.set_minor_locator(MultipleLocator(5 / 3))
ax_spd.tick_params(axis='y', which='both', direction='in', color='#0000ff', length=4, labelright=False)

ax_cad.yaxis.tick_left()
ax_cad.yaxis.set_major_locator(MultipleLocator(20))
ax_cad.yaxis.set_minor_locator(MultipleLocator(10))
ax_cad.tick_params(axis='y', which='both', direction='in', color='#ffff00', length=5,
                   labelleft=False, labelright=False)

# texts round the plot
fig.text(651 / 1300, 1 - 8 / 300, title, ha='center', va='center', fontsize=9.2, fontweight='bold')
fig.text(43 / 1300, 1 - 23 / 300, duration_text, ha='left', va='center', fontsize=7.2)
fig.text(654 / 1300, 1 - 23 / 300, elev_text, ha='center', va='center', fontsize=7.3)
fig.text(1258 / 1300, 1 - 23 / 300, hr_text, ha='right', va='center', fontsize=7.5, color='#ff2020')
fig.text(651 / 1300, 1 - 290 / 300, time_title, ha='center', va='center', fontsize=8.3)
fig.text(44 / 1300, 1 - 293 / 300, cad_text, ha='left', va='center', fontsize=7.3, color='#ff9900')
fig.text(1256 / 1300, 1 - 293 / 300, spd_text, ha='right', va='center', fontsize=7.3, color='#2020ff')
fig.text(9 / 1300, 1 - 140 / 300, 'Elevation (m)', rotation=90, ha='center', va='center', fontsize=7)
fig.text(1291 / 1300, 1 - 152 / 300, 'Heart Rate (bpm)', rotation=90, ha='center', va='center',
         fontsize=7.5, color='#ff0000')

fig.add_artist(Rectangle((0, 0), 1, 1, transform=fig.transFigure, fill=False, edgecolor='black', lw=2))

fig.savefig('out.png', dpi=100, facecolor=fig.get_facecolor())
